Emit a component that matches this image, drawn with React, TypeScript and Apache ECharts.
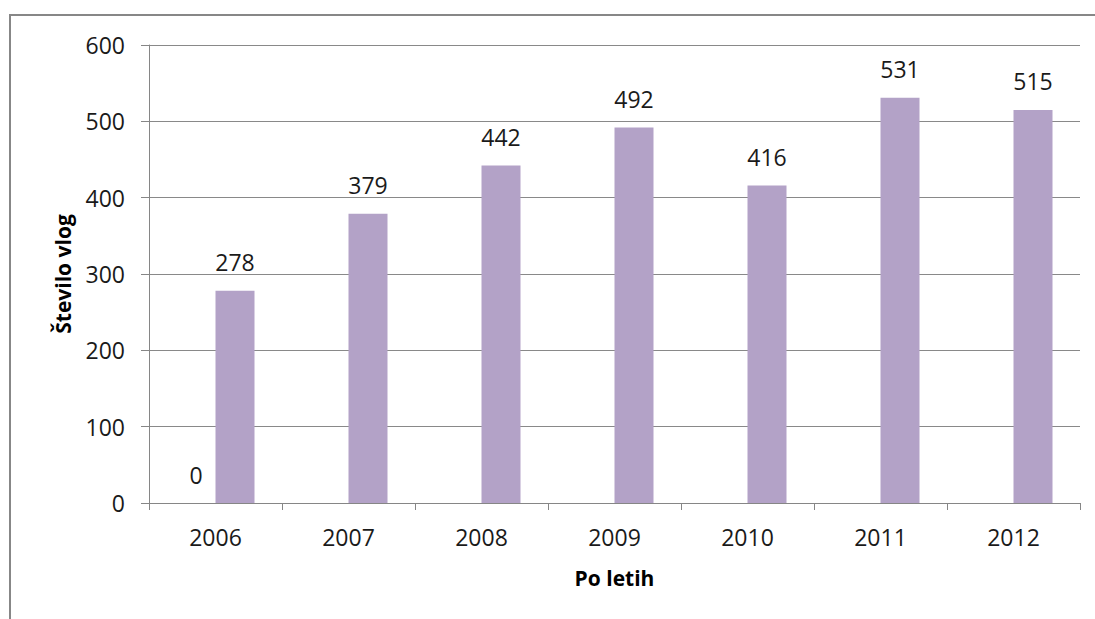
import React, { useEffect, useRef } from "react";
import * as echarts from "echarts";

const years = ["2006", "2007", "2008", "2009", "2010", "2011", "2012"];
const zeroSeries: (number | string)[] = [0, "-", "-", "-", "-", "-", "-"];
const applications = [278, 379, 442, 492, 416, 531, 515];
const yTicks = { min: 0, max: 600, interval: 100 };

const FONT = "'Open Sans', 'Noto Sans', sans-serif";

export default function App() {
  const ref = useRef<HTMLDivElement>(null);
  useEffect(() => {
    if (!ref.current) return;
    const chart = echarts.init(ref.current, undefined, { renderer: "svg" });
    const labelStyle = {
      show: true,
      position: "top" as const,
      distance: 17,
      fontFamily: FONT,
      fontSize: 23,
      color: "#1a1a1a",
    };
    chart.setOption({
      animation: false,
      backgroundColor: "#ffffff",
      textStyle: { fontFamily: FONT },
      graphic: [
        {
          type: "rect",
          shape: { x: 10, y: 15, width: 1200, height: 800 },
          style: { fill: "none", stroke: "#878787", lineWidth: 2 },
          silent: true,
        },
      ],
      grid: { left: 149, right: 15, top: 45, bottom: 116, containLabel: false },
      xAxis: {
        type: "category",
        data: years,
        name: "Po letih",
        nameLocation: "middle",
        nameGap: 64,
        nameTextStyle: { fontFamily: FONT, fontSize: 21, fontWeight: "bold", color: "#000" },
        axisLine: { show: true, lineStyle: { color: "#868686", width: 1 } },
        axisTick: { show: true, length: 7, interval: 0, lineStyle: { color: "#868686" } },
        axisLabel: { margin: 22, fontFamily: FONT, fontSize: 23, color: "#1a1a1a", interval: 0 },
        splitLine: { show: false },
      },
      yAxis: {
        type: "value",
        min: yTicks.min,
        max: yTicks.max,
        interval: yTicks.interval,
        name: "Število vlog",
        nameLocation: "middle",
        nameGap: 76,
        nameRotate: 90,
        nameTextStyle: { fontFamily: FONT, fontSize: 21, fontWeight: "bold", color: "#000" },
        axisLine: { show: true, lineStyle: { color: "#868686", width: 1 } },
        axisTick: { show: true, length: 8, lineStyle: { color: "#868686" } },
        axisLabel: { margin: 24, fontFamily: FONT, fontSize: 23, color: "#1a1a1a" },
        splitLine: { show: true, lineStyle: { color: "#898989", width: 1 } },
      },
      series: [
        {
          type: "bar",
          data: zeroSeries,
          barWidth: 39,
          barGap: "0%",
          itemStyle: { color: "#4F81BD" },
          label: labelStyle,
        },
        {
          type: "bar",
          data: applications,
          barWidth: 39,
          barGap: "0%",
          itemStyle: { color: "#B3A2C7" },
          label: labelStyle,
        },
      ],
    });
    return () => chart.dispose();
  }, []);
  return (
    <div
      ref={ref}
      style={{ position: "fixed", left: 0, top: 0, width: 1095, height: 619 }}
    />
  );
}
